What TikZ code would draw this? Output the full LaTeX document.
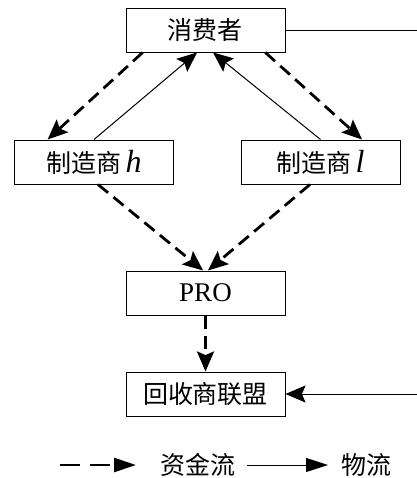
\documentclass[tikz,border=0pt]{standalone}
\usepackage{fontspec}
\setmainfont{Liberation Serif}
\newfontfamily\cjk{Noto Sans CJK SC}
\usetikzlibrary{arrows.meta,calc}
\begin{document}
\begin{tikzpicture}[x=0.5pt,y=-0.5pt,
  box/.style={draw,line width=0.5pt,minimum width=79.5pt,minimum height=22pt,inner sep=0pt,font=\fontsize{12.5}{14}\selectfont},
  lab/.style={inner sep=0pt,font=\fontsize{12.5}{14}\selectfont},
  money/.style={line width=1.4pt,dash pattern=on 6.5pt off 3.5pt,-{Stealth[length=10pt,width=8.5pt,inset=1.8pt]}},
  goods/.style={line width=0.5pt,-{Stealth[length=10pt,width=8.5pt,inset=1.8pt]}},
  plainline/.style={line width=0.5pt}]
\useasboundingbox (0,0) rectangle (417,478);
\node[box] (c) at (205.5,30) {\cjk 消费者};
\node[box] (h) at (94,162) {\cjk 制造商\,{\rmfamily\itshape\fontsize{16}{16}\selectfont h}};
\node[box] (l) at (320.5,162) {\cjk 制造商\,{\rmfamily\itshape\fontsize{16}{16}\selectfont l}};
\node[box] (p) at (205.5,293) {\fontsize{13.5}{14}\selectfont PRO};
\node[box] (r) at (205.5,394) {\cjk 回收商联盟};
% money flows
\draw[money] ($(c.south west)!0.107!(c.south east)$) -- ($(h.north west)!0.21!(h.north east)$);
\draw[money] ($(c.south west)!0.874!(c.south east)$) -- ($(l.north west)!0.76!(l.north east)$);
\draw[money] ($(h.south west)!0.525!(h.south east)$) -- ($(p.north west)!0.485!(p.north east)$);
\draw[money] ($(l.south west)!0.434!(l.south east)$) -- ($(p.north west)!0.515!(p.north east)$);
\draw[money] (p.south) -- (r.north);
% goods flows
\draw[goods] (h.north) -- ($(c.south west)!0.447!(c.south east)$);
\draw[goods] (l.north) -- ($(c.south west)!0.547!(c.south east)$);
\coordinate (e1) at (417,30);
\coordinate (e2) at (417,394);
\draw[plainline] (c.east) -- (e1);
\draw[goods] (e2) -- (r.east);
% legend
\coordinate (la1) at (60,465);
\coordinate (la2) at (136,465);
\draw[line width=1.4pt,dash pattern=on 10pt off 5pt,-{Stealth[length=11pt,width=7pt,inset=0pt]}] (la1) -- (la2);
\node[lab] (lt1) at (198,465) {\cjk 资金流};
\coordinate (lb1) at (247,465);
\coordinate (lb2) at (328,465);
\draw[line width=0.5pt,-{Stealth[length=11pt,width=7pt,inset=0pt]}] (lb1) -- (lb2);
\node[lab] (lt2) at (367,465) {\cjk 物流};
\end{tikzpicture}
\end{document}
